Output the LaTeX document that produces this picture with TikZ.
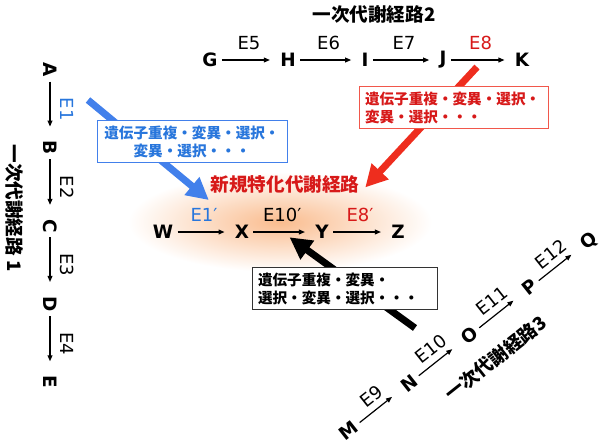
\documentclass[tikz,border=0pt]{standalone}
\usepackage{fontspec}
\setmainfont{DejaVu Sans}
\newfontfamily\jpfont{Noto Sans CJK JP}
\usetikzlibrary{arrows.meta, positioning, backgrounds}

\definecolor{evoblue}{RGB}{66,128,235}
\definecolor{txtblue}{RGB}{40,118,220}
\definecolor{evored}{RGB}{238,45,30}
\definecolor{txtred}{RGB}{215,25,25}
\definecolor{glow}{RGB}{250,188,142}

\begin{document}
\begin{tikzpicture}[x=0.5pt, y=-0.5pt,
    met/.style={font=\bfseries\fontsize{9.2}{10}\selectfont, inner sep=2pt},
    enz/.style={font=\fontsize{9}{10}\selectfont, inner sep=0pt},
    conv/.style={-{Triangle[length=3pt,width=2.4pt]}, line width=0.6pt, shorten >=3pt},
    fat/.style={-{Triangle[length=11pt,width=11pt]}, line width=3.5pt},
    jbox/.style={
        draw,
        fill=white,
        line width=0.5pt,
        inner xsep=3pt,
        inner ysep=2.5pt,
        font=\jpfont\bfseries\fontsize{7.3}{9}\selectfont
    },
    ptitle/.style={font=\jpfont\bfseries\fontsize{9.3}{11}\selectfont, inner sep=0pt}]

    \useasboundingbox (0,0) rectangle (600,446);

    % Primary pathway 2
    \node[ptitle] (t2) at (374,14) {一次代謝経路2};
    \node[met] (G) at (210,60) {G};
    \node[met] (H) at (288,60) {H};
    \node[met] (I) at (365,60) {I};
    \node[met] (J) at (443,60) {J};
    \node[met] (K) at (522,60) {K};
    \draw[conv] (G) -- node[enz, above=5pt] (e5) {E5} (H);
    \draw[conv] (H) -- node[enz, above=5pt] (e6) {E6} (I);
    \draw[conv] (I) -- node[enz, above=5pt] (e7) {E7} (J);
    \draw[conv] (J) -- node[enz, above=5pt, text=txtred] (e8) {E8} (K);

    % Primary pathway 1
    \begin{scope}[shift={(50,70)}, rotate=-90, transform shape]
        \node[met] (A) at (0,0) {A};
        \node[met] (B) at (78,0) {B};
        \node[met] (C) at (156,0) {C};
        \node[met] (D) at (234,0) {D};
        \node[met] (E) at (312,0) {E};
        \draw[conv, shorten >=5pt] (A) -- node[enz, above=5pt, text=txtblue] (e1) {E1} (B);
        \draw[conv, shorten >=5pt] (B) -- node[enz, above=5pt] (e2) {E2} (C);
        \draw[conv, shorten >=5pt] (C) -- node[enz, above=5pt] (e3) {E3} (D);
        \draw[conv, shorten >=5pt] (D) -- node[enz, above=5pt] (e4) {E4} (E);
        \node[ptitle] (t1) at (138,35) {一次代謝経路 1};
    \end{scope}

    % Primary pathway 3
    \begin{scope}[shift={(349,431)}, rotate=38.4, transform shape]
        \node[met] (M) at (0,0) {M};
        \node[met] (N) at (77,0) {N};
        \node[met] (O) at (154,0) {O};
        \node[met] (P) at (231,0) {P};
        \node[met] (Q) at (306,0) {Q};
        \draw[conv, shorten >=5pt] (M) -- node[enz, above=3pt] (e9) {E9} (N);
        \draw[conv, shorten >=5pt] (N) -- node[enz, above=3pt] (e10) {E10} (O);
        \draw[conv, shorten >=5pt] (O) -- node[enz, above=3pt] (e11) {E11} (P);
        \draw[conv, shorten >=5pt] (P) -- node[enz, above=3pt] (e12) {E12} (Q);
        \node[ptitle] (t3) at (160,34) {一次代謝経路3};
    \end{scope}

    % New specialized pathway
    \node[ptitle, text=txtred] (tn) at (285,184) {新規特化代謝経路};
    \node[met] (W) at (163,232) {W};
    \node[met] (X) at (242,232) {X};
    \node[met] (Y) at (322,232) {Y};
    \node[met] (Z) at (398,232) {Z};
    \draw[conv] (W) -- node[enz, above=5pt, text=txtblue] (e1p) {E1′} (X);
    \draw[conv] (X) -- node[enz, above=5pt] (e10p) {E10′} coordinate[midway] (xy) (Y);
    \draw[conv] (Y) -- node[enz, above=5pt, text=txtred] (e8p) {E8′} (Z);

    % Glow and evolution arrows
    \coordinate (b0) at (88,100);
    \coordinate (r0) at (477,67);
    \coordinate (k0) at (415,328);
    \begin{scope}[on background layer]
        \shade[inner color=glow, outer color=white] (280,222) ellipse [x radius=76pt, y radius=25pt];
        \draw[fat, evoblue, shorten >=6pt] (b0) -- (e1p.north east);
        \draw[fat, evored, shorten >=4pt] (r0) -- (tn.south east);
        \draw[fat, black, shorten >=4.5pt] (k0) -- (xy);
    \end{scope}

    % Boxes
    \node[jbox, draw=evoblue, text=txtblue, text width=89pt, align=center] (bb) at (192,141.5)
        {遺伝子重複・変異・選択・\\変異・選択・・・};
    \node[jbox, draw=evored!80, text=txtred, text width=88.5pt, align=left] (rb) at (453.5,107.5)
        {遺伝子重複・変異・選択・\\変異・選択・・・};
    \node[jbox, draw=black!80, text width=86.5pt, align=left] (kb) at (344.5,288.5)
        {遺伝子重複・変異・\\選択・変異・選択・・・};

\end{tikzpicture}
\end{document}
